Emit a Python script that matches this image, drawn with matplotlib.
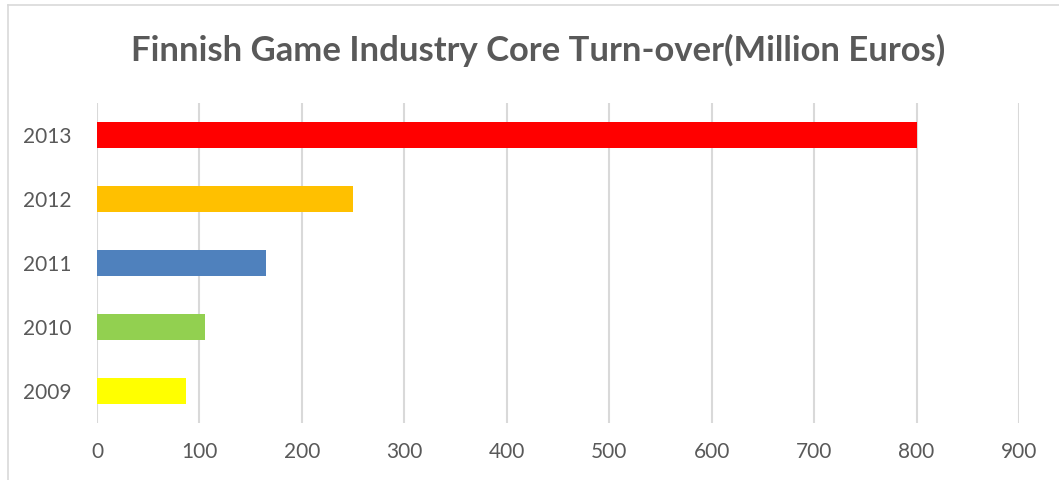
import matplotlib
matplotlib.use("Agg")
import matplotlib.pyplot as plt
from matplotlib.lines import Line2D

years = ["2009", "2010", "2011", "2012", "2013"]
turnover = [87, 105, 165, 250, 800]
bar_colors = ["#FFFF00", "#92D050", "#4F81BD", "#FFC000", "#FF0000"]
x_ticks = [0, 100, 200, 300, 400, 500, 600, 700, 800, 900]

plt.rcParams['font.family'] = ['Lato', 'DejaVu Sans']
text_grey = "#595959"

fig = plt.figure(figsize=(10.59, 4.8), dpi=100)
ax = fig.add_axes([97 / 1059, 1 - 423 / 480, (1019 - 97) / 1059, 320 / 480])

ax.barh(years, turnover, height=0.41, color=bar_colors, zorder=3)

ax.set_xlim(0, 900)
ax.set_ylim(-0.5, 4.5)
ax.set_xticks(x_ticks)
ax.grid(axis="x", color="#D9D9D9", linewidth=1.5, zorder=0)
for s in ax.spines.values():
    s.set_visible(False)
ax.tick_params(axis="both", length=0, labelsize=15, labelcolor=text_grey)
ax.tick_params(axis="x", pad=14)
ax.tick_params(axis="y", pad=18)

fig.text(538 / 1059, 1 - 50 / 480, "Finnish Game Industry Core Turn-over(Million Euros)",
         ha="center", va="center", fontsize=24.9, fontweight="bold", color=text_grey)

# outer chart border (only top and left visible in the crop)
fig.add_artist(Line2D([8 / 1059, 1], [1 - 5 / 480, 1 - 5 / 480], transform=fig.transFigure,
                      color="#D9D9D9", linewidth=1.2))
fig.add_artist(Line2D([8 / 1059, 8 / 1059], [0, 1 - 5 / 480], transform=fig.transFigure,
                      color="#D9D9D9", linewidth=1.2))

fig.savefig("out.png", dpi=100)
